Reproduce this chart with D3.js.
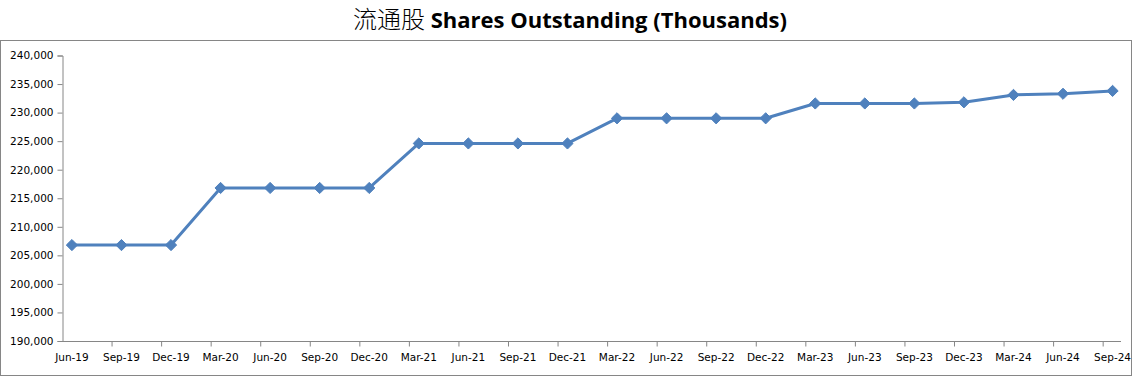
<!DOCTYPE html>
<html><head><meta charset="utf-8">
<script src="https://cdn.jsdelivr.net/npm/d3@7"></script>
<style>
body{margin:0;background:#fff;}
svg{display:block;}
</style></head>
<body>
<svg id="chart" width="1141" height="383"></svg>
<script>
(function(){
const categories = ["Jun-19","Sep-19","Dec-19","Mar-20","Jun-20","Sep-20","Dec-20","Mar-21","Jun-21","Sep-21","Dec-21","Mar-22","Jun-22","Sep-22","Dec-22","Mar-23","Jun-23","Sep-23","Dec-23","Mar-24","Jun-24","Sep-24"];
const shares = [206800,206800,206800,216800,216800,216800,216800,224600,224600,224600,224600,229000,229000,229000,229000,231600,231600,231600,231800,233100,233300,233800];
const yTicks = [190000,195000,200000,205000,210000,215000,220000,225000,230000,235000,240000];
const titleCn = "流通股";
const titleEn = " Shares Outstanding (Thousands)";

const svg = d3.select("#chart");
const axisColor = "#868686";

svg.append("rect").attr("x",0.5).attr("y",40.5).attr("width",1131).attr("height",335)
  .attr("fill","none").attr("stroke",axisColor).attr("stroke-width",1);

const t = svg.append("text").attr("x",570).attr("y",28).attr("text-anchor","middle")
  .attr("fill","#000");
t.append("tspan").attr("font-family","'Noto Sans CJK SC'").attr("font-size","24px").attr("font-weight",300).text(titleCn);
t.append("tspan").attr("font-family","'Open Sans', sans-serif").attr("font-size","22px").attr("font-weight",700).text(titleEn);

const pLeft = 62, pRight = 1121, pTop = 55.5, pBottom = 341;
const x = d3.scaleLinear().domain([-0.2, categories.length - 1 + 0.17]).range([pLeft, pRight]);
const y = d3.scaleLinear().domain([190000, 240000]).range([pBottom, pTop]);

const yAxis = d3.axisLeft(y).tickValues(yTicks).tickSize(5).tickPadding(4)
  .tickFormat(d3.format(","));
const gy = svg.append("g").attr("transform",`translate(${pLeft+0.5},0)`).call(yAxis);
gy.select(".domain").attr("stroke",axisColor);
gy.selectAll(".tick line").attr("stroke",axisColor);
gy.selectAll(".tick text").attr("font-family","'DejaVu Sans', sans-serif").attr("font-size","10.5px").attr("fill","#000");

const tickPos = d3.range(categories.length).map(i => i - 0.2);
const xAxis = d3.axisBottom(x).tickValues(tickPos).tickSize(5).tickFormat("");
const gx = svg.append("g").attr("transform",`translate(0,${pBottom+0.5})`).call(xAxis);
gx.select(".domain").attr("stroke",axisColor).attr("d",`M${pLeft},0H${pRight}`);
gx.selectAll(".tick line").attr("stroke",axisColor);
gx.selectAll(".tick").filter(d => d < 0).remove();

svg.append("g").selectAll("text").data(categories).join("text")
  .attr("x",(d,i)=>x(i)).attr("y",361).attr("text-anchor","middle")
  .attr("font-family","'DejaVu Sans', sans-serif").attr("font-size","10.5px").attr("fill","#000")
  .text(d=>d);

const color = "#4f81bd";
const line = d3.line().x((d,i)=>x(i)).y(d=>y(d));
svg.append("path").datum(shares).attr("d",line).attr("fill","none")
  .attr("stroke",color).attr("stroke-width",3).attr("stroke-linejoin","round");

const diamond = d3.symbol().type(d3.symbolDiamond2).size(80);
svg.append("g").selectAll("path").data(shares).join("path")
  .attr("transform",(d,i)=>`translate(${x(i)},${y(d)})`)
  .attr("d",diamond).attr("fill",color).attr("stroke",color).attr("stroke-width",1);
})();
</script>
</body></html>
